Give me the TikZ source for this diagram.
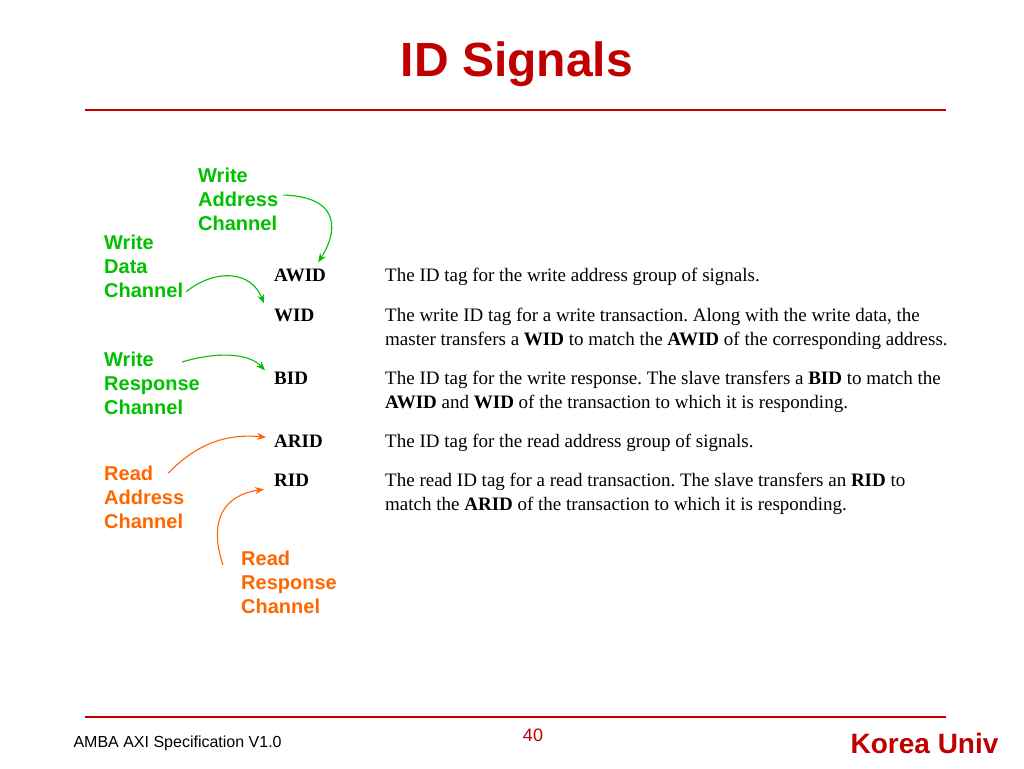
\documentclass[tikz,border=0pt]{standalone}
\usepackage{fontspec}
\setmainfont{Liberation Serif}
\setsansfont{Liberation Sans}
\usepackage{xcolor}
\usetikzlibrary{arrows.meta}
\definecolor{slidered}{HTML}{C00000}
\definecolor{wgreen}{HTML}{00C000}
\definecolor{rorange}{HTML}{FF6600}
\frenchspacing

\begin{document}
\begin{tikzpicture}[
  x=1pt,y=-1pt,
  >={Stealth[length=9pt,width=7pt]},
  lbl/.style={anchor=north west,inner sep=0pt,align=left,font=\sffamily\bfseries\fontsize{20}{24}\selectfont},
  sig/.style={anchor=base west,inner sep=0pt,font=\bfseries\fontsize{19}{24}\selectfont},
  desc/.style={anchor=north west,inner sep=0pt,align=left,font=\fontsize{19}{24}\selectfont},
  wch/.style={wgreen,->,line width=1.1pt},
  rch/.style={rorange,->,line width=1.1pt},
  hrule/.style={slidered,line width=2pt}
]
  \useasboundingbox (0,0) rectangle (1024,768);
  \fill[white] (0,0) rectangle (1024,768);
  % title and rules
  \node[anchor=base,font=\sffamily\bfseries\fontsize{48}{52}\selectfont,text=slidered] (title) at (517,76) {ID Signals};
  \draw[hrule] (85,110) -- (946,110);
  \draw[hrule] (85,717) -- (946,717);
  % signal names
  \node[sig] (awid) at (274,281) {AWID};
  \node[sig] (wid)  at (274,321) {WID};
  \node[sig] (bid)  at (274,384) {BID};
  \node[sig] (arid) at (274,447) {ARID};
  \node[sig] (rid)  at (274,486) {RID};
  % descriptions
  \node[desc] (awidtxt) at (385,268) {The ID tag for the write address group of signals.};
  \node[desc] (widtxt)  at (385,308) {The write ID tag for a write transaction. Along with the write data, the\\
    master transfers a \textbf{WID} to match the \textbf{AWID} of the corresponding address.};
  \node[desc] (bidtxt)  at (385,371) {The ID tag for the write response. The slave transfers a \textbf{BID} to match the\\
    \textbf{AWID} and \textbf{WID} of the transaction to which it is responding.};
  \node[desc] (aridtxt) at (385,434) {The ID tag for the read address group of signals.};
  \node[desc] (ridtxt)  at (385,473) {The read ID tag for a read transaction. The slave transfers an \textbf{RID} to\\
    match the \textbf{ARID} of the transaction to which it is responding.};
  % channel labels
  \node[lbl,text=wgreen]  (wa) at (198,167.5) {Write\\Address\\Channel};
  \node[lbl,text=wgreen]  (wd) at (104,234.5) {Write\\Data\\Channel};
  \node[lbl,text=wgreen]  (wr) at (104,351.5) {Write\\Response\\Channel};
  \node[lbl,text=rorange] (ra) at (104,465.5) {Read\\Address\\Channel};
  \node[lbl,text=rorange] (rr) at (241,550.5) {Read\\Response\\Channel};
  % channel -> signal
  \draw[wch] ([shift={(5,-4)}]wa.east) .. controls +(62,2) and +(17,-26) .. ([shift={(-8,-6)}]awid.north east);
  \draw[wch] ([shift={(3,-6)}]wd.south east) .. controls +(29,-23) and +(-13,-33) .. ([shift={(-10,-5)}]wid.north west);
  \draw[wch] ([shift={(-18,10.5)}]wr.north east) .. controls +(33,-10) and +(-17,-18) .. ([shift={(-9,-1)}]bid.north west);
  \draw[rch] ([shift={(-16,7.5)}]ra.north east) .. controls +(27,-28) and +(-41,-4) .. ([shift={(-8,3)}]arid.north west);
  \draw[rch] ([shift={(-18,14.5)}]rr.north west) .. controls +(-15,-45) and +(-40,6) .. ([shift={(-10,3)}]rid.south west);
  % footer
  \node[anchor=base west,font=\sffamily\fontsize{16}{18}\selectfont] (spec) at (70,747) {AMBA AXI Specification V1.0};
  \node[anchor=base,font=\sffamily\fontsize{18}{20}\selectfont,text=slidered] (pageno) at (533,741) {40};
  \node[anchor=base east,font=\sffamily\bfseries\fontsize{28}{30}\selectfont,text=slidered] (univ) at (1002,753) {Korea Univ};
\end{tikzpicture}
\end{document}
